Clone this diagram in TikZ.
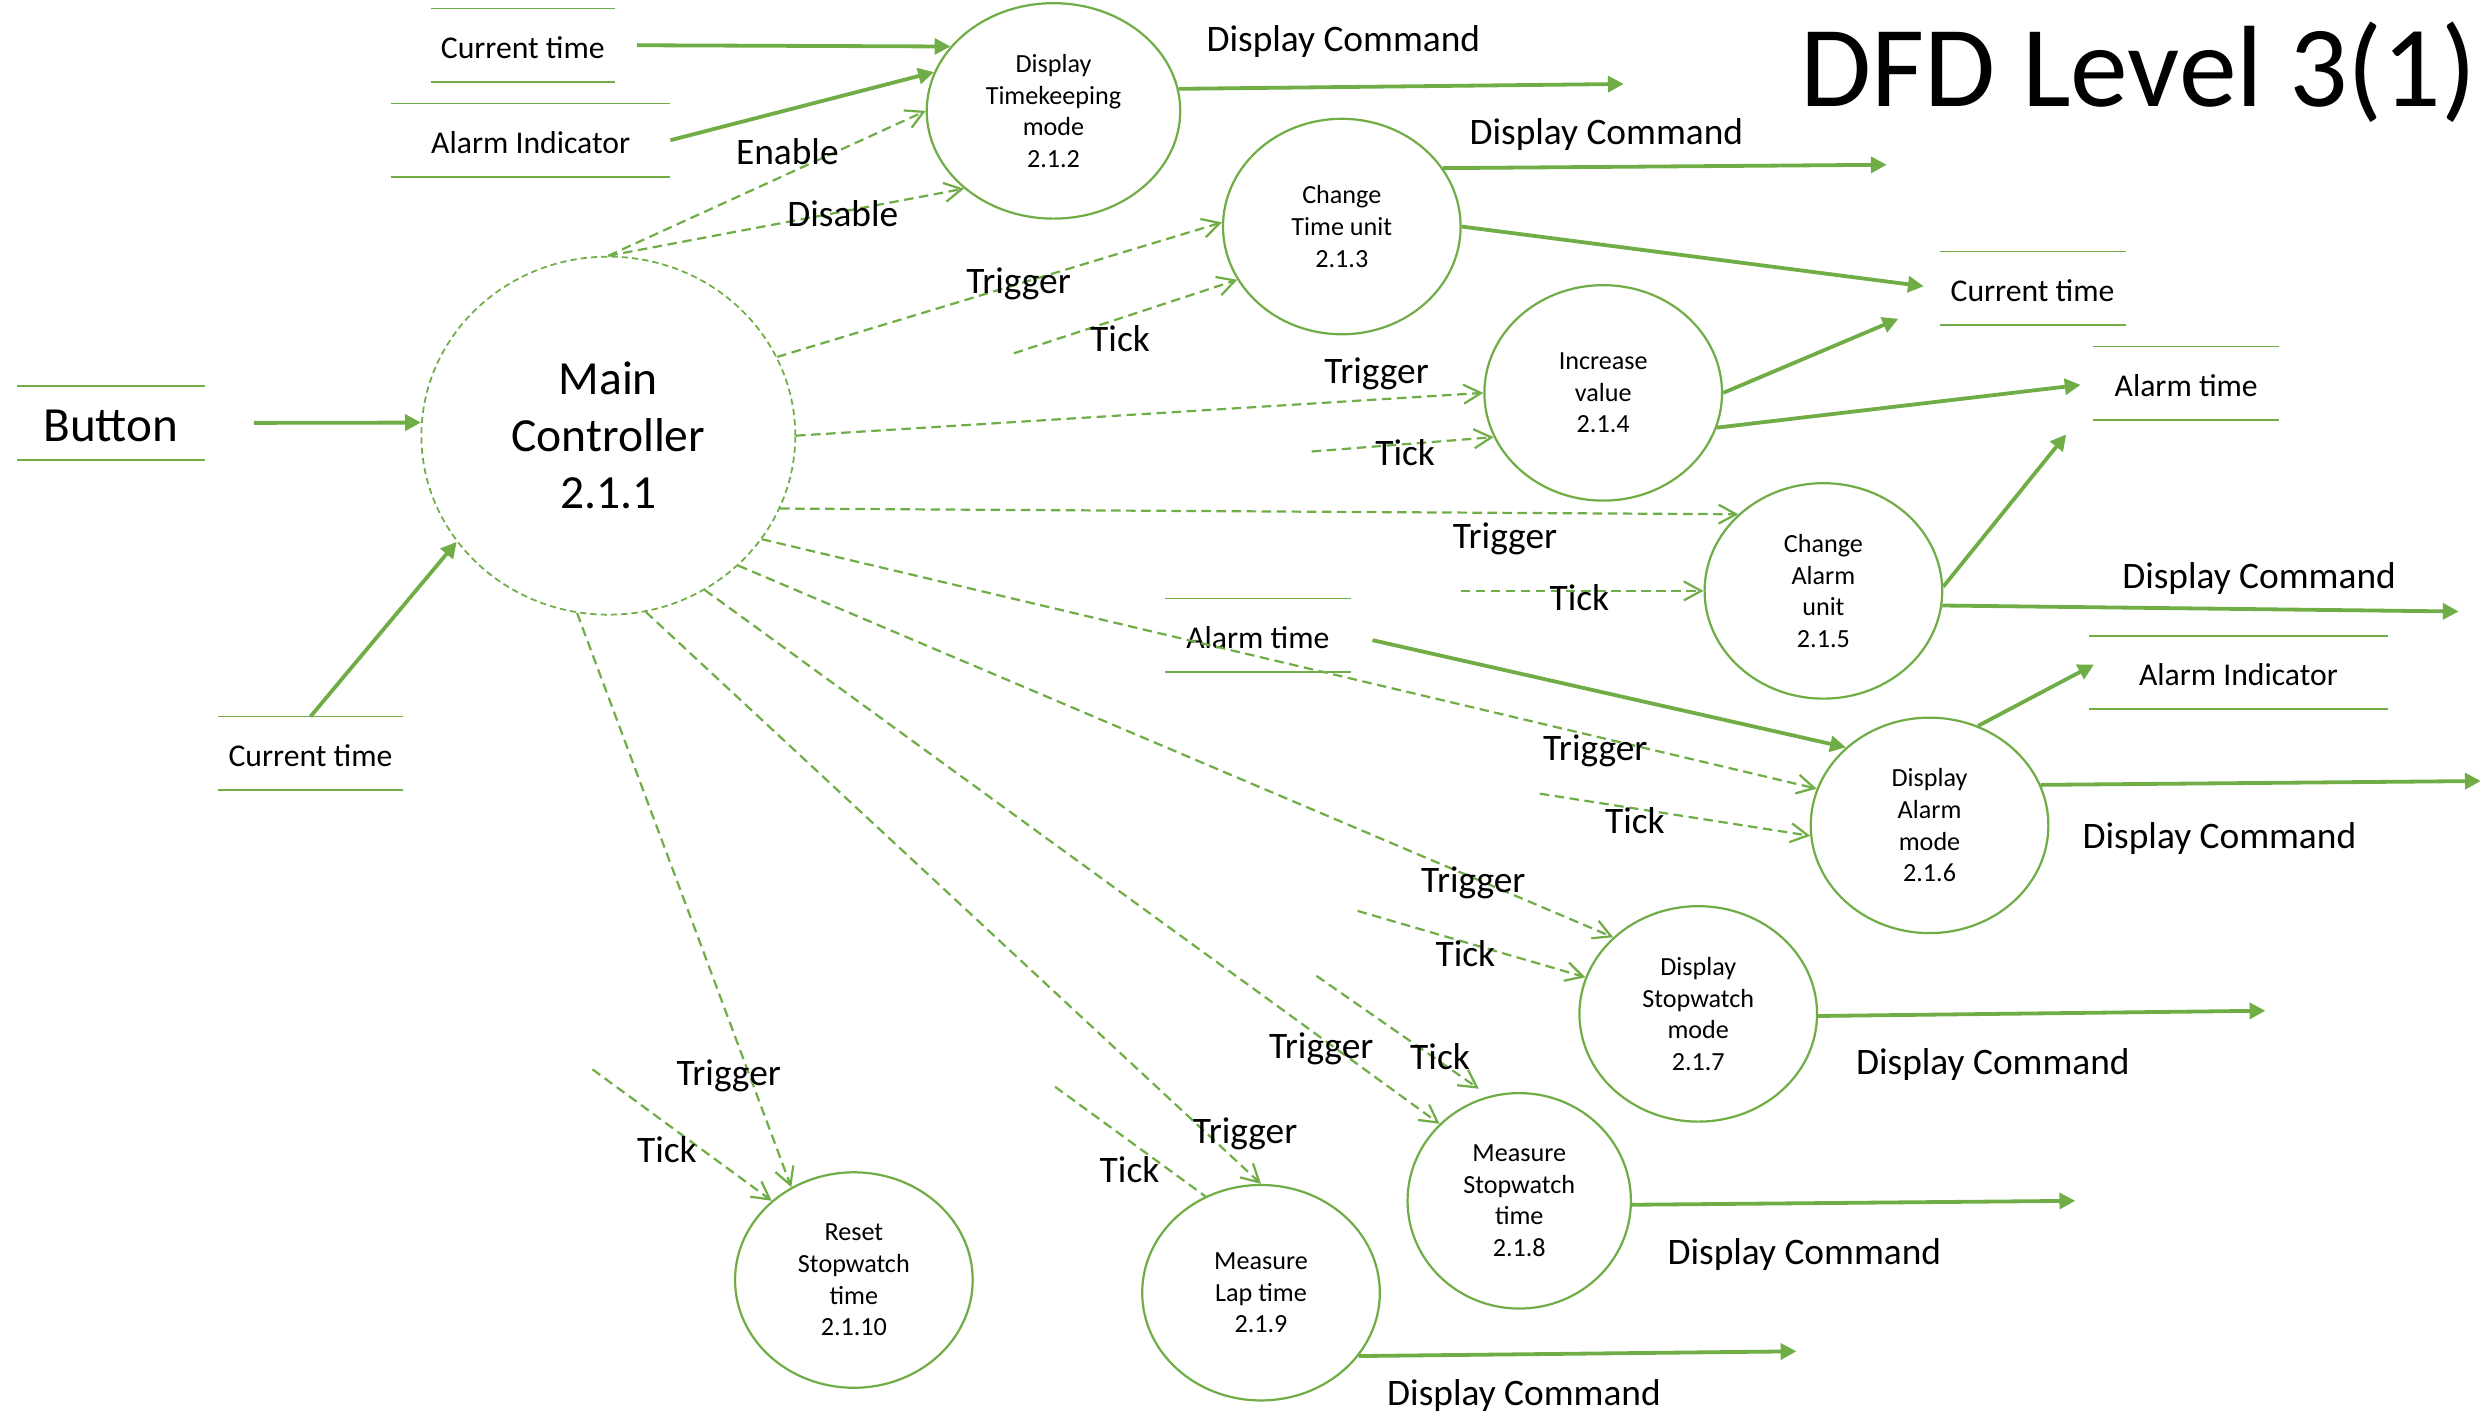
\documentclass[tikz,border=0pt]{standalone}
\usepackage{fontspec}
\setmainfont{Carlito}
\usetikzlibrary{arrows.meta,shapes.geometric}
\definecolor{dfdgreen}{RGB}{112,173,71}

\begin{document}
\begin{tikzpicture}[x=1pt,y=-1pt,
    proc/.style={ellipse, draw=dfdgreen, line width=1.4pt, minimum width=150pt, minimum height=136pt,
                 inner sep=0pt, align=center, font=\fontsize{16.5}{20}\selectfont},
    store/.style={minimum width=#1, minimum height=46pt, inner sep=0pt, text height=17pt, text depth=0pt,
                  font=\fontsize{20}{24}\selectfont},
    flow/.style={dfdgreen, line width=2.4pt, -{Triangle[length=10pt,width=10pt]}},
    ctrl/.style={dfdgreen, line width=1.4pt, dash pattern=on 6pt off 3.5pt, -{Straight Barb[length=11pt,width=12pt]}},
    lbl/.style={yshift=-2pt, font=\fontsize{23.6}{28}\selectfont}]
    \useasboundingbox (0,0) rectangle (1568,895);

    % Title
    \node[font=\fontsize{73}{88}\selectfont, anchor=base] (title) at (1350,67) {DFD Level 3(1)};

    % Main controller
    \node[proc, dash pattern=on 4pt off 2.5pt, line width=1.1pt, minimum width=236pt, minimum height=226pt,
          font=\fontsize{30}{36}\selectfont] (main) at (384,275) {Main\\Controller\\2.1.1};

    % Processes
    \node[proc, minimum width=160pt] (p212) at (665,70)   {Display\\Timekeeping\\mode\\2.1.2};
    \node[proc]                      (p213) at (847,143)  {Change\\Time unit\\2.1.3};
    \node[proc]                      (p214) at (1012,248) {Increase\\value\\2.1.4};
    \node[proc]                      (p215) at (1151,373) {Change\\Alarm\\unit\\2.1.5};
    \node[proc]                      (p216) at (1218,521) {Display\\Alarm\\mode\\2.1.6};
    \node[proc]                      (p217) at (1072,640) {Display\\Stopwatch\\mode\\2.1.7};
    \node[proc, minimum width=141pt] (p218) at (959,758)  {Measure\\Stopwatch\\time\\2.1.8};
    \node[proc]                      (p219) at (796,816)  {Measure\\Lap time\\2.1.9};
    \node[proc]                      (p2110) at (539,808) {Reset\\Stopwatch\\time\\2.1.10};

    % Data stores
    \node[store=116pt] (ctTop)   at (330,28.5)   {Current time};
    \node[store=176pt] (aiTop)   at (335,88.5)   {Alarm Indicator};
    \node[store=118pt, text height=24pt, font=\fontsize{31}{36}\selectfont] (button) at (70,267) {Button};
    \node[store=117pt] (ctLeft)  at (196,475.5)  {Current time};
    \node[store=117pt] (ctRight) at (1283,182)   {Current time};
    \node[store=117pt] (atRight) at (1380,242)   {Alarm time};
    \node[store=117pt] (atMid)   at (794,401)    {Alarm time};
    \node[store=188pt] (aiRight) at (1413,424.5) {Alarm Indicator};
    \foreach \s in {ctTop,aiTop,button,ctLeft,ctRight,atRight,atMid,aiRight}
        \draw[dfdgreen, line width=1pt] (\s.north west) -- (\s.north east) (\s.south west) -- (\s.south east);

    % Free ends
    \coordinate (tk3) at (640,223);
    \coordinate (tk4) at (828,285);
    \coordinate (tk5) at (922,373);
    \coordinate (tk6) at (972,501);
    \coordinate (tk7) at (857,575);
    \coordinate (tk8) at (831,616);
    \coordinate (tk9) at (666,686);
    \coordinate (tk10) at (374,675);
    \coordinate (out2) at (1025,53);
    \coordinate (out3) at (1191,104);
    \coordinate (out5) at (1552,386);
    \coordinate (out6) at (1566,493);
    \coordinate (out7) at (1430,638);
    \coordinate (out8) at (1310,758);
    \coordinate (out9) at (1134,853);

    % Data flows
    \draw[flow, shorten <=14pt] (ctTop.east) -- (p212.148);
    \draw[flow] (aiTop.east) -- (p212.162);
    \draw[flow, shorten <=31pt] (button.east) -- (main.176);
    \draw[flow] (ctLeft.north) -- (main.-145);
    \draw[flow] (p212.10) -- (out2);
    \draw[flow] (p213.30) -- (out3);
    \draw[flow, shorten >=10pt] (p213.0) -- (ctRight.west);
    \draw[flow] (p214.0) -- ([xshift=-26pt,yshift=4pt]ctRight.south west);
    \draw[flow, shorten >=8pt] (p214.-17) -- (atRight.west);
    \draw[flow] (p215.2) -- ([xshift=-17pt,yshift=-9pt]atRight.south west);
    \draw[flow] (p215.-7) -- (out5);
    \draw[flow, shorten <=14pt] (atMid.east) -- (p216.137);
    \draw[flow] (p216.64) -- ([xshift=3pt,yshift=5pt]aiRight.west);
    \draw[flow] (p216.20) -- (out6);
    \draw[flow] (p217.-1) -- (out7);
    \draw[flow] (p218.-2) -- (out8);
    \draw[flow] (p219.-33) -- (out9);

    % Control flows
    \draw[ctrl] (main.90) -- (p212.180);
    \draw[ctrl] (main.90) -- (p212.221);
    \draw[ctrl] (main.25) -- (p213.178);
    \draw[ctrl] (tk3) -- (p213.207);
    \draw[ctrl] (main.0) -- (p214.180);
    \draw[ctrl] (tk4) -- (p214.202);
    \draw[ctrl] (main.-23) -- (p215.138);
    \draw[ctrl] (tk5) -- (p215.180);
    \draw[ctrl] (main.-34) -- (p216.162);
    \draw[ctrl] (tk6) -- (p216.185);
    \draw[ctrl] (main.-45) -- (p217.138);
    \draw[ctrl] (tk7) -- (p217.162);
    \draw[ctrl] (main.-58) -- (p218.136);
    \draw[ctrl, shorten >=8pt] (tk8) -- (p218.106);
    \draw[ctrl] (main.-78) -- (p219.90);
    \draw[ctrl, -] (tk9) -- (p219.120);
    \draw[ctrl] (main.-100) -- (p2110.124);
    \draw[ctrl] (tk10) -- (p2110.136);

    % Labels
    \node[lbl] (lEnable)  at (497,94)  {Enable};
    \node[lbl] (lDisable) at (532,133) {Disable};
    \node[lbl] (lTrig3)  at (643,177)  {Trigger};
    \node[lbl] (lTick3)  at (707,212)  {Tick};
    \node[lbl] (lTrig4)  at (869,234)  {Trigger};
    \node[lbl] (lTick4)  at (887,284)  {Tick};
    \node[lbl] (lTrig5)  at (950,338)  {Trigger};
    \node[lbl] (lTick5)  at (997,375)  {Tick};
    \node[lbl] (lTrig6)  at (1007,472) {Trigger};
    \node[lbl] (lTick6)  at (1032,516) {Tick};
    \node[lbl] (lTrig7)  at (930,555)  {Trigger};
    \node[lbl] (lTick7)  at (925,600)  {Tick};
    \node[lbl] (lTrig8)  at (834,660)  {Trigger};
    \node[lbl] (lTick8)  at (909,665)  {Tick};
    \node[lbl] (lTrig9)  at (786,714)  {Trigger};
    \node[lbl] (lTick9)  at (713,736)  {Tick};
    \node[lbl] (lTrig10) at (460,677)  {Trigger};
    \node[lbl] (lTick10) at (421,724)  {Tick};
    \node[lbl] (lCmd2)   at (848,24)   {Display Command};
    \node[lbl] (lCmd3)   at (1014,83)  {Display Command};
    \node[lbl] (lCmd5)   at (1426,363) {Display Command};
    \node[lbl] (lCmd6)   at (1401,527) {Display Command};
    \node[lbl] (lCmd7)   at (1258,670) {Display Command};
    \node[lbl] (lCmd8)   at (1139,790) {Display Command};
    \node[lbl] (lCmd9)   at (962,879)  {Display Command};
\end{tikzpicture}
\end{document}
